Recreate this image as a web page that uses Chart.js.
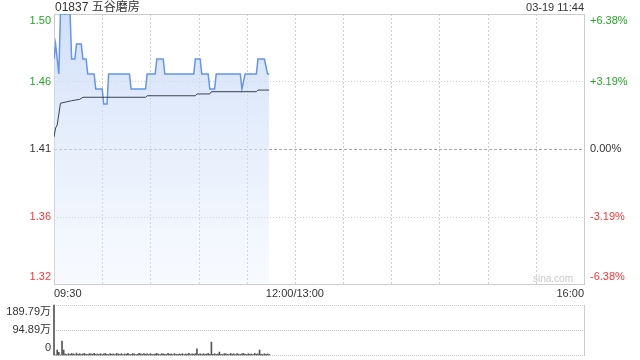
<!DOCTYPE html>
<html>
<head>
<meta charset="utf-8">
<script src="https://cdn.jsdelivr.net/npm/chart.js@4.4.0/dist/chart.umd.min.js"></script>
<style>
  body { margin: 0; background: #fff; }
  #wrap { position: relative; width: 640px; height: 360px; font-family: "Liberation Sans", Arial, "Noto Sans CJK SC", sans-serif; color: #333; }
  #mainBox { position: absolute; left: 0; top: 0; width: 640px; height: 300px; }
  #volBox { position: absolute; left: 0; top: 300px; width: 640px; height: 60px; }
  .txt { position: absolute; white-space: nowrap; z-index: 2; }
</style>
</head>
<body>
<div id="wrap">
  <div id="mainBox"><canvas id="mainChart"></canvas></div>
  <div id="volBox"><canvas id="volChart"></canvas></div>
  <div class="txt" style="left:55px; top:0; font-size:12px; line-height:14px;">01837 五谷磨房</div>
  <div class="txt" style="right:56px; top:0; font-size:11px; line-height:14px;">03-19 11:44</div>
  <div class="txt" style="left:533px; top:273px; font-size:10px; line-height:12px; color:#c8c8c8;">sina.com</div>
</div>
<script>
// minutes after 09:30 (trading minutes, 12:00 -> 150, 16:00 -> 330)
const priceTimes = [0, 1, 3, 4, 10, 11, 13, 14, 17, 18, 20, 21, 25, 26, 30, 31, 33, 34, 47, 48, 57, 58, 63, 64, 68, 69, 87, 88, 91, 92, 96, 97, 100, 101, 116, 117, 119, 126, 127, 131, 133, 134];
const prices     = [1.47, 1.48, 1.46, 1.50, 1.50, 1.47, 1.47, 1.48, 1.48, 1.47, 1.47, 1.46, 1.46, 1.45, 1.45, 1.44, 1.44, 1.46, 1.46, 1.45, 1.45, 1.46, 1.46, 1.47, 1.47, 1.46, 1.46, 1.47, 1.47, 1.46, 1.46, 1.45, 1.45, 1.46, 1.46, 1.45, 1.46, 1.46, 1.47, 1.47, 1.46, 1.46];

const avgTimes  = [0, 1, 2, 4, 8, 11, 16, 18, 57, 58, 88, 89, 97, 98, 126, 127, 134];
const avgPrices = [1.418, 1.424, 1.426, 1.4405, 1.4415, 1.4422, 1.4431, 1.4445, 1.4445, 1.4455, 1.4455, 1.4467, 1.4467, 1.4482, 1.4482, 1.4493, 1.4493];

// volume per minute, in 万
const volumes = [
  189.79, 0, 19, 10, 0, 53, 19, 4, 2, 5,
  3, 6, 4, 2, 7, 3, 5, 2, 4, 6,
  3, 2, 5, 4, 3, 6, 2, 4, 3, 5,
  2, 4, 6, 3, 2, 5, 3, 4, 2, 6,
  4, 3, 5, 2, 4, 3, 6, 2, 3, 5,
  4, 2, 3, 6, 4, 2, 5, 3, 4, 2,
  5, 3, 2, 4, 6, 3, 2, 5, 4, 3,
  2, 6, 3, 4, 2, 5, 3, 2, 4, 3,
  5, 2, 4, 3, 6, 2, 4, 3, 5, 23,
  3, 4, 2, 5, 3, 4, 6, 2, 49, 3,
  5, 2, 4, 11, 3, 2, 5, 4, 3, 2,
  6, 3, 4, 2, 5, 3, 2, 4, 6, 3,
  2, 5, 3, 4, 2, 6, 3, 4, 19, 3,
  2, 5, 3, 4, 2
];

const priceTicks  = [1.32, 1.365, 1.41, 1.455, 1.50];
const priceLabels = ['1.32', '1.36', '1.41', '1.46', '1.50'];
const pctTicks    = [-6.38, -3.19, 0, 3.19, 6.38];
const pctLabels   = ['-6.38%', '-3.19%', '0.00%', '+3.19%', '+6.38%'];
const tickColors  = ['#f33', '#f33', '#333', '#22a722', '#22a722'];

const gridMinutes = [0, 30, 60, 90, 120, 150, 180, 210, 240, 270, 300, 330];
const timeLabelMinutes = [0, 150, 330];
const timeLabels = ['09:30', '12:00/13:00', '16:00'];

const volTicks  = [0, 94.895, 189.79];
const volLabels = ['0', '94.89万', '189.79万'];

const font = { family: '"Liberation Sans", Arial, "Noto Sans CJK SC", sans-serif', size: 11 };

// push the outer labels inward like the original chart
function edgeLabel(text, i, n) {
  if (i === 0) return [text, ''];
  if (i === n - 1) return ['', text];
  return text;
}

function setTicks(list) {
  return function (scale) {
    scale.ticks = list.map(v => ({ value: v }));
  };
}

function fixWidth(w) {
  return function (scale) {
    scale.width = w;
    scale.paddingTop = 0;
    scale.paddingBottom = 0;
  };
}

// dotted / dashed grid lines, placed with the chart's own scales
function hLine(chart, scaleId, value, color, dash) {
  const ctx = chart.ctx, area = chart.chartArea;
  const y = Math.round(chart.scales[scaleId].getPixelForValue(value)) + 0.5;
  ctx.save();
  ctx.strokeStyle = color;
  ctx.lineWidth = 1;
  ctx.setLineDash(dash);
  ctx.beginPath();
  ctx.moveTo(area.left, y);
  ctx.lineTo(area.right, y);
  ctx.stroke();
  ctx.restore();
}

function vLine(chart, scaleId, value, color, dash) {
  const ctx = chart.ctx, area = chart.chartArea;
  const x = Math.round(chart.scales[scaleId].getPixelForValue(value)) + 0.5;
  ctx.save();
  ctx.strokeStyle = color;
  ctx.lineWidth = 1;
  ctx.setLineDash(dash);
  ctx.beginPath();
  ctx.moveTo(x, area.top);
  ctx.lineTo(x, area.bottom);
  ctx.stroke();
  ctx.restore();
}

const mainGrid = {
  id: 'mainGrid',
  beforeDatasetsDraw(chart) {
    gridMinutes.slice(1, -1).forEach(m => vLine(chart, 'x', m, '#cfcfcf', [2, 2]));
    hLine(chart, 'y', priceTicks[1], '#cfcfcf', [1, 2]);
    hLine(chart, 'y', priceTicks[3], '#cfcfcf', [1, 2]);
    hLine(chart, 'y', priceTicks[2], '#aaa', [3, 2]);
    hLine(chart, 'y', priceTicks[4], '#ccc', []);
  }
};

const volGrid = {
  id: 'volGrid',
  beforeDatasetsDraw(chart) {
    volTicks.forEach(v => hLine(chart, 'y', v, '#c8c8c8', [1, 1]));
  }
};

Chart.defaults.font = font;
Chart.defaults.color = '#333';

new Chart(document.getElementById('mainChart'), {
  type: 'line',
  data: {
    datasets: [
      {
        label: 'price',
        data: priceTimes.map((t, i) => ({ x: t, y: prices[i] })),
        borderColor: '#6495ed',
        borderWidth: 1.5,
        pointRadius: 0,
        tension: 0,
        fill: 'start',
        backgroundColor: function (ctx) {
          const area = ctx.chart.chartArea;
          if (!area) return 'rgba(210,225,248,0.8)';
          const g = ctx.chart.ctx.createLinearGradient(0, area.top, 0, area.bottom);
          g.addColorStop(0, 'rgba(200,218,247,0.85)');
          g.addColorStop(1, 'rgba(225,235,252,0.25)');
          return g;
        },
        order: 2
      },
      {
        label: 'avg',
        data: avgTimes.map((t, i) => ({ x: t, y: avgPrices[i] })),
        borderColor: '#3a4250',
        borderWidth: 1,
        pointRadius: 0,
        tension: 0,
        fill: false,
        order: 1
      }
    ]
  },
  options: {
    responsive: true,
    maintainAspectRatio: false,
    animation: false,
    layout: { padding: { top: 14, left: 0, right: 0, bottom: 0 } },
    plugins: { legend: { display: false }, tooltip: { enabled: false } },
    scales: {
      x: {
        type: 'linear',
        min: 0,
        max: 330,
        afterBuildTicks: setTicks(gridMinutes),
        afterFit: function (scale) { scale.height = 16; scale.paddingLeft = 0; scale.paddingRight = 0; },
        border: { display: true, color: '#ccc' },
        grid: { display: false, drawTicks: false },
        ticks: {
          autoSkip: false,
          maxRotation: 0,
          padding: 3,
          align: 'inner',
          callback: function (value) {
            const i = timeLabelMinutes.indexOf(value);
            return i >= 0 ? timeLabels[i] : '';
          }
        }
      },
      y: {
        position: 'left',
        min: 1.32,
        max: 1.50,
        afterBuildTicks: setTicks(priceTicks),
        afterFit: fixWidth(54),
        border: { display: true, color: '#ccc' },
        grid: { display: false, drawTicks: false },
        ticks: {
          autoSkip: false,
          padding: 3,
          color: ctx => tickColors[ctx.index],
          callback: (value, i) => edgeLabel(priceLabels[i], i, priceLabels.length)
        }
      },
      yPct: {
        position: 'right',
        min: -6.38,
        max: 6.38,
        afterBuildTicks: setTicks(pctTicks),
        afterFit: fixWidth(56),
        border: { display: true, color: '#ccc' },
        grid: { display: false, drawTicks: false },
        ticks: {
          autoSkip: false,
          padding: 6,
          color: ctx => tickColors[ctx.index],
          callback: (value, i) => edgeLabel(pctLabels[i], i, pctLabels.length)
        }
      }
    }
  },
  plugins: [mainGrid]
});

new Chart(document.getElementById('volChart'), {
  type: 'bar',
  data: {
    datasets: [{
      label: 'volume',
      data: volumes.map((v, i) => ({ x: i, y: v })),
      backgroundColor: '#555',
      barThickness: 1,
      clip: false
    }]
  },
  options: {
    responsive: true,
    maintainAspectRatio: false,
    animation: false,
    layout: { padding: { top: 5, left: 0, right: 0, bottom: 5 } },
    plugins: { legend: { display: false }, tooltip: { enabled: false } },
    scales: {
      x: {
        type: 'linear',
        min: 0,
        max: 330,
        offset: false,
        display: false,
        grid: { offset: false }
      },
      y: {
        position: 'left',
        min: 0,
        max: 189.79,
        afterBuildTicks: setTicks(volTicks),
        afterFit: fixWidth(54),
        border: { display: false },
        grid: { display: false, drawTicks: false },
        ticks: {
          autoSkip: false,
          padding: 3,
          callback: (value, i) => edgeLabel(volLabels[i], i, volLabels.length)
        }
      },
      yRight: {
        position: 'right',
        min: 0,
        max: 189.79,
        afterFit: fixWidth(56),
        border: { display: true, color: '#ccc' },
        grid: { display: false, drawTicks: false },
        ticks: { display: false }
      }
    }
  },
  plugins: [volGrid]
});
</script>
</body>
</html>
